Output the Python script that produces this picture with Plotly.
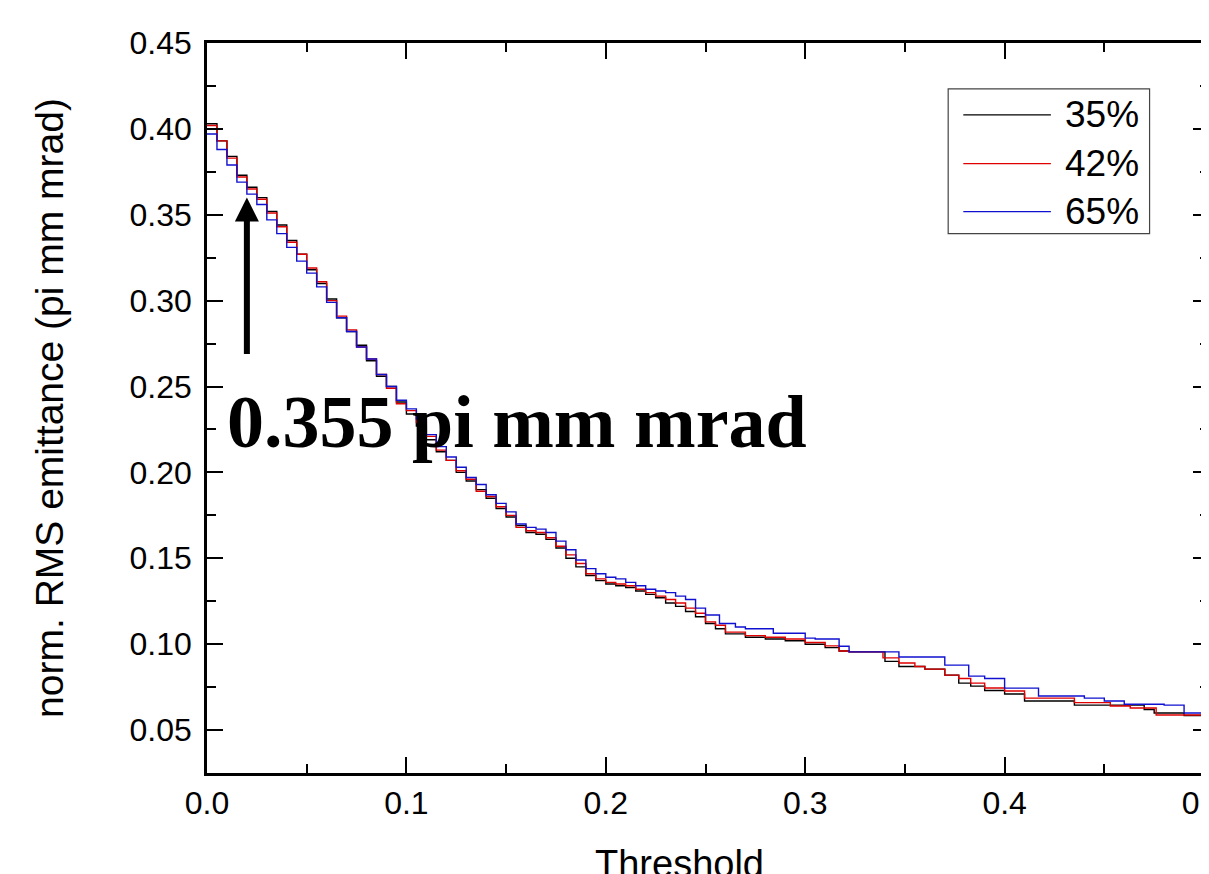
import plotly.graph_objects as go

# ---- data ----
series_names = ["35%", "42%", "65%"]
series_colors = ["black", "#e00000", "#1010d0"]

x_black = [0.000, 0.005, 0.010, 0.015, 0.020, 0.025, 0.030, 0.035, 0.040, 0.045,
           0.050, 0.055, 0.060, 0.065, 0.070, 0.075, 0.080, 0.085, 0.090, 0.095,
           0.100, 0.105, 0.110, 0.115, 0.120, 0.125, 0.130, 0.135, 0.140, 0.145,
           0.150, 0.155, 0.160, 0.165, 0.170, 0.175, 0.180, 0.185, 0.190, 0.195,
           0.200, 0.205, 0.210, 0.215, 0.220, 0.225, 0.230, 0.235, 0.240, 0.245,
           0.250, 0.255, 0.260, 0.270, 0.280, 0.290, 0.300, 0.310, 0.317, 0.322,
           0.340, 0.347, 0.360, 0.370, 0.377, 0.383, 0.390, 0.400, 0.410, 0.435,
           0.460, 0.470, 0.475, 0.490, 0.500]
y_black = [0.403, 0.393, 0.384, 0.373, 0.366, 0.360, 0.352, 0.344, 0.335, 0.327,
           0.318, 0.310, 0.301, 0.290, 0.282, 0.274, 0.265, 0.256, 0.250, 0.241,
           0.234, 0.227, 0.219, 0.212, 0.207, 0.200, 0.195, 0.190, 0.185, 0.179,
           0.174, 0.169, 0.165, 0.164, 0.161, 0.156, 0.150, 0.145, 0.140, 0.137,
           0.135, 0.134, 0.133, 0.131, 0.129, 0.127, 0.124, 0.122, 0.119, 0.116,
           0.112, 0.109, 0.106, 0.104, 0.103, 0.102, 0.100, 0.098, 0.096, 0.0955,
           0.090, 0.087, 0.0855, 0.082, 0.0773, 0.0756, 0.073, 0.071, 0.0669, 0.0645,
           0.0645, 0.062, 0.0599, 0.0585, 0.057]

x_red = [0.000, 0.005, 0.010, 0.015, 0.020, 0.025, 0.030, 0.035, 0.040, 0.045,
         0.050, 0.055, 0.060, 0.065, 0.070, 0.075, 0.080, 0.085, 0.090, 0.095,
         0.100, 0.105, 0.110, 0.115, 0.120, 0.125, 0.130, 0.135, 0.140, 0.145,
         0.150, 0.155, 0.160, 0.165, 0.170, 0.175, 0.180, 0.185, 0.190, 0.195,
         0.200, 0.205, 0.210, 0.215, 0.220, 0.225, 0.230, 0.235, 0.240, 0.245,
         0.250, 0.255, 0.260, 0.270, 0.280, 0.290, 0.300, 0.310, 0.317, 0.322,
         0.339, 0.347, 0.355, 0.360, 0.370, 0.377, 0.383, 0.390, 0.400, 0.410,
         0.435, 0.453, 0.463, 0.476, 0.500]
y_red = [0.402, 0.393, 0.383, 0.372, 0.365, 0.359, 0.351, 0.343, 0.334, 0.327,
         0.319, 0.311, 0.300, 0.291, 0.283, 0.273, 0.266, 0.257, 0.249, 0.240,
         0.236, 0.229, 0.221, 0.213, 0.207, 0.201, 0.196, 0.189, 0.186, 0.180,
         0.175, 0.168, 0.166, 0.165, 0.162, 0.157, 0.152, 0.147, 0.141, 0.138,
         0.136, 0.135, 0.134, 0.132, 0.130, 0.128, 0.126, 0.124, 0.121, 0.118,
         0.113, 0.111, 0.107, 0.105, 0.104, 0.103, 0.101, 0.099, 0.096, 0.0955,
         0.092, 0.089, 0.087, 0.0855, 0.082, 0.080, 0.0773, 0.0745, 0.0727, 0.0686,
         0.066, 0.064, 0.0628, 0.0588, 0.0588]

x_blue = [0.000, 0.005, 0.010, 0.015, 0.020, 0.025, 0.030, 0.035, 0.040, 0.045,
          0.050, 0.055, 0.060, 0.065, 0.070, 0.075, 0.080, 0.085, 0.090, 0.095,
          0.100, 0.105, 0.110, 0.115, 0.120, 0.125, 0.130, 0.135, 0.140, 0.145,
          0.150, 0.155, 0.160, 0.165, 0.170, 0.175, 0.180, 0.185, 0.190, 0.195,
          0.200, 0.205, 0.210, 0.215, 0.220, 0.225, 0.230, 0.235, 0.240, 0.245,
          0.250, 0.257, 0.265, 0.270, 0.284, 0.300, 0.305, 0.317, 0.322, 0.343,
          0.347, 0.360, 0.370, 0.376, 0.382, 0.390, 0.400, 0.410, 0.417, 0.440,
          0.450, 0.460, 0.480, 0.490, 0.500]
y_blue = [0.397, 0.388, 0.379, 0.369, 0.362, 0.356, 0.347, 0.339, 0.331, 0.323,
          0.316, 0.308, 0.299, 0.290, 0.282, 0.273, 0.266, 0.257, 0.250, 0.242,
          0.237, 0.231, 0.222, 0.215, 0.209, 0.203, 0.197, 0.193, 0.187, 0.182,
          0.177, 0.170, 0.168, 0.167, 0.165, 0.160, 0.155, 0.149, 0.144, 0.141,
          0.139, 0.138, 0.136, 0.134, 0.132, 0.131, 0.130, 0.128, 0.126, 0.121,
          0.117, 0.112, 0.110, 0.109, 0.1064, 0.1035, 0.103, 0.0988, 0.0955, 0.0955,
          0.0925, 0.0925, 0.0878, 0.0878, 0.0814, 0.0800, 0.0744, 0.0744, 0.0698, 0.0686,
          0.0669, 0.065, 0.0645, 0.0599, 0.0593]

x_ticks = [0.0, 0.1, 0.2, 0.3, 0.4, 0.5]
x_ticklabels = ["0.0", "0.1", "0.2", "0.3", "0.4", "0.5"]
y_ticks = [0.05, 0.10, 0.15, 0.20, 0.25, 0.30, 0.35, 0.40, 0.45]
y_ticklabels = ["0.05", "0.10", "0.15", "0.20", "0.25", "0.30", "0.35", "0.40", "0.45"]

x_title = "Threshold"
y_title = "norm. RMS emittance (pi mm mrad)"
annotation_text = "0.355 pi mm mrad"
arrow_x = 0.02
arrow_tip_y = 0.360
arrow_tail_y = 0.268
label_x = 0.009
label_y = 0.2295

xs = [x_black, x_red, x_blue]
ys = [y_black, y_red, y_blue]

fig = go.Figure()
for name, color, xv, yv in zip(series_names, series_colors, xs, ys):
    fig.add_trace(go.Scatter(x=xv, y=yv, name=name, mode="lines", showlegend=False,
                             line=dict(color=color, width=1.4, shape="hv")))

sans = "Arial, Liberation Sans, sans-serif"
axis_common = dict(
    showline=True, linecolor="black", linewidth=2.5, mirror="allticks",
    ticks="inside", ticklen=16, tickwidth=2, tickcolor="black",
    showgrid=False, zeroline=False, automargin=False,
    tickfont=dict(family=sans, size=32, color="black"),
    ticklabeloverflow="allow",
)

fig.update_xaxes(range=[0, 0.5025], tickvals=x_ticks, ticktext=x_ticklabels,
                 minor=dict(ticks="inside", ticklen=9, tickwidth=2, tickcolor="black", dtick=0.05, showgrid=False),
                 ticklabelstandoff=0,
                 **axis_common)
fig.update_yaxes(range=[0.025, 0.45], tickvals=y_ticks, ticktext=y_ticklabels,
                 minor=dict(ticks="inside", ticklen=9, tickwidth=2, tickcolor="black", dtick=0.025, tick0=0.025, showgrid=False),
                 title=dict(text=y_title, font=dict(family=sans, size=39, color="black"), standoff=54),
                 ticklabelstandoff=6,
                 **axis_common)

# x-axis title (placed as in the reference, slightly left of centre and cut by the bottom edge)
fig.add_annotation(x=0.472, y=-0.124, xref="paper", yref="paper", text=x_title, showarrow=False,
                   xanchor="center", yanchor="middle",
                   font=dict(family=sans, size=38, color="black"))

fig.add_annotation(x=arrow_x, y=arrow_tip_y, ax=arrow_x, ay=arrow_tail_y,
                   xref="x", yref="y", axref="x", ayref="y", text="",
                   showarrow=True, arrowhead=2, arrowwidth=6, arrowsize=0.8, arrowcolor="black")
fig.add_annotation(x=label_x, y=label_y, xref="x", yref="y", text="<b>" + annotation_text + "</b>",
                   showarrow=False, xanchor="left", yanchor="middle",
                   font=dict(family="Times New Roman, Liberation Serif, serif", size=74, color="black"))

# legend box drawn in the reference style (long line samples, right-aligned labels)
leg_x0, leg_x1, leg_y0, leg_y1 = 0.7397, 0.9407, 0.739, 0.9372
leg_line_x0, leg_line_x1 = 0.7548, 0.8422
leg_rows_y = [0.9016, 0.8347, 0.7691]
leg_text_x = 0.9317
fig.add_shape(type="rect", xref="paper", yref="paper", x0=leg_x0, x1=leg_x1, y0=leg_y0, y1=leg_y1,
              line=dict(color="#444", width=1.2), fillcolor="white", layer="above")
for name, color, ry in zip(series_names, series_colors, leg_rows_y):
    fig.add_shape(type="line", xref="paper", yref="paper", x0=leg_line_x0, x1=leg_line_x1, y0=ry, y1=ry,
                  line=dict(color=color, width=1.3), layer="above")
    fig.add_annotation(x=leg_text_x, y=ry, xref="paper", yref="paper", text=name, showarrow=False,
                       xanchor="right", yanchor="middle",
                       font=dict(family=sans, size=37, color="black"))

fig.update_layout(
    width=1209, height=874,
    margin=dict(l=199, r=8, t=35, b=109),
    paper_bgcolor="white", plot_bgcolor="white",
    showlegend=False,
)

fig.write_html("out.html")
